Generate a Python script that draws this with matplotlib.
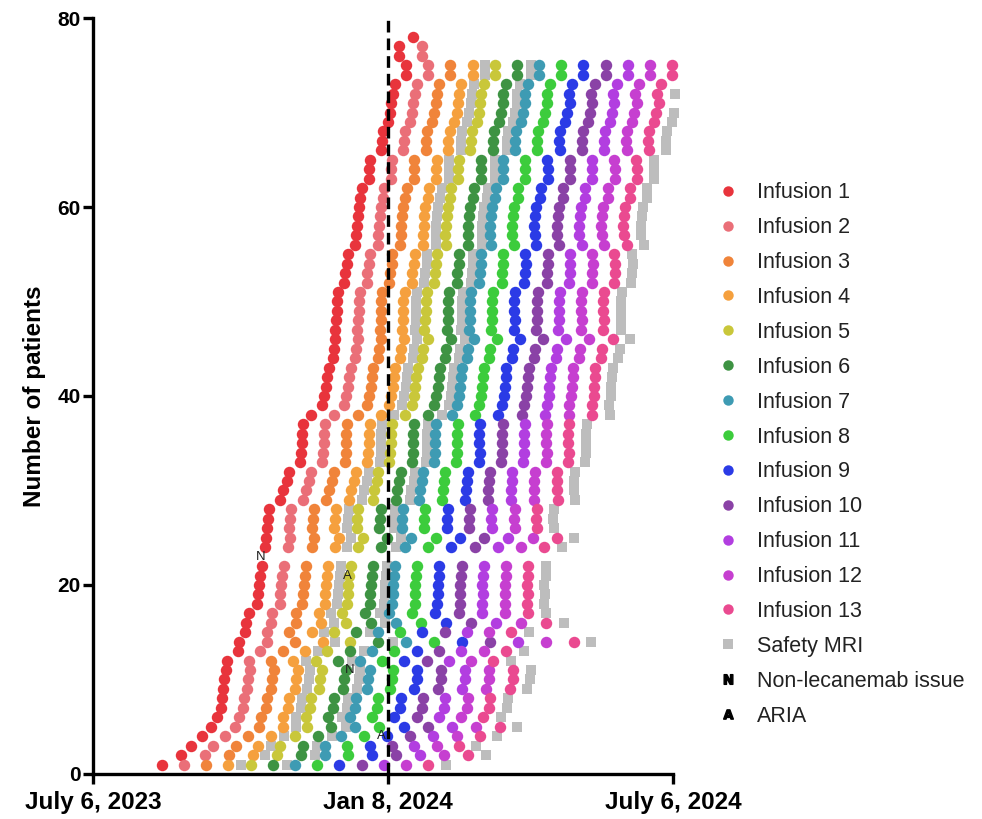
import numpy as np
import matplotlib
matplotlib.use('Agg')
import matplotlib.pyplot as plt
from matplotlib.lines import Line2D

plt.rcParams['font.family'] = ['Liberation Sans', 'DejaVu Sans']

# ============================================================
# DATA  (days counted from July 6, 2023)
# ============================================================
TICK_DAYS = [0, 186, 366]
TICK_LABELS = ['July 6, 2023', 'Jan 8, 2024', 'July 6, 2024']
CUTOFF_DAY = 368

# first infusion day per patient (patient 1..78), nan = never infused
first_dose = [43.5, 55.5, 61.8, 68.8, 74.4, 78.2, 80.8, 81.4, 82.0, 82.6,
              83.9, 84.5, 91.5, 92.1, 95.9, 96.5, 98.4, 103.5, 104.1, 104.7,
              105.4, 106.6, np.nan, 108.5, 109.1, 109.8, 110.4, 111.0, 118.0, 119.9,
              122.4, 123.7, 130.6, 131.2, 131.9, 131.9, 132.5, 137.5, 144.5, 145.7,
              147.0, 147.6, 148.9, 151.4, 152.1, 152.7, 152.7, 153.3, 153.9, 153.9,
              154.6, 158.4, 159.0, 160.3, 160.9, 165.3, 165.9, 166.6, 167.2, 167.8,
              168.5, 169.7, 174.1, 174.1, 174.8, 181.7, 182.3, 183.0, 186.1, 187.4,
              188.0, 189.3, 190.5, 197.5, 197.5, 193.1, 193.1, 201.9]

# average days between infusions per patient
dose_gap = [14.0, 15.1, 14.1, 14.6, 15.2, 14.0, 14.1, 14.1, 15.1, 15.2,
            15.1, 14.0, 14.1, 17.6, 14.0, 15.8, 14.7, 14.2, 14.2, 14.1,
            14.1, 14.0, 14.0, 14.7, 15.3, 14.2, 14.1, 14.1, 14.6, 14.4,
            14.2, 14.1, 14.1, 14.1, 14.0, 14.0, 14.0, 14.8, 14.2, 14.2,
            14.1, 14.1, 14.0, 14.1, 14.1, 14.6, 14.1, 14.1, 14.0, 14.0,
            14.0, 14.2, 14.2, 14.1, 14.0, 14.3, 14.1, 14.0, 14.0, 14.0,
            14.2, 14.1, 14.1, 14.1, 14.0, 14.1, 14.0, 14.0, 14.0, 14.0,
            14.1, 13.9, 14.0, 14.0, 14.0, 14.5, 14.5, 14.0]

# infusions received per patient
n_doses = [13] * 22 + [0] + [13] * 52 + [2, 2, 1]

# safety MRI: days after the given infusion number
MRI_AFTER = {4: 8, 6: 9, 13: 11}

# event markers: (patient, day, letter)
events = [(23, 106.0, 'N'), (21, 160.3, 'A'), (11, 162.1, 'N'), (4, 181.7, 'A')]

infusion_colors = ['#e8343c', '#ea6f78', '#f0843a', '#f5a03e', '#c9c73a',
                   '#3e9343', '#3e9bb3', '#3ccc3c', '#2b3be6', '#8a42a6',
                   '#b23ee0', '#c63fd0', '#ea4a90']
MRI_COLOR = '#bdbdbd'

# ============================================================
# BUILD POINTS
# ============================================================
inf_x = [[] for _ in range(13)]
inf_y = [[] for _ in range(13)]
mri_x, mri_y = [], []
for i, (d0, gap, n) in enumerate(zip(first_dose, dose_gap, n_doses)):
    pid = i + 1
    if n == 0:
        continue
    for k in range(n):
        inf_x[k].append(d0 + gap * k)
        inf_y[k].append(pid)
    for after, off in MRI_AFTER.items():
        if after <= n:
            d = d0 + gap * (after - 1) + off
            if d <= CUTOFF_DAY:
                mri_x.append(d)
                mri_y.append(pid)

# ============================================================
# PLOT
# ============================================================
fig = plt.figure(figsize=(9.82, 8.19), dpi=100)
ax = fig.add_axes([0.0947, 0.055, 0.5906, 0.923])

ax.scatter(mri_x, mri_y, marker='s', s=52, color=MRI_COLOR, linewidths=0,
           zorder=2, clip_on=False)
for k in range(13):
    ax.scatter(inf_x[k], inf_y[k], s=68, color=infusion_colors[k], linewidths=0,
               zorder=3, clip_on=False)

for pid, day, letter in events:
    ax.text(day, pid, letter, ha='center', va='center', fontsize=9.5,
            color='#222222', zorder=5)

ax.axvline(186, color='black', linestyle=(0, (3.5, 1.8)), linewidth=2.4, zorder=4)

ax.set_xlim(0, 366)
ax.set_ylim(0, 80)
ax.set_xticks(TICK_DAYS)
ax.set_xticklabels(TICK_LABELS, fontsize=17.5, fontweight='bold')
ax.set_yticks([0, 20, 40, 60, 80])
ax.set_yticklabels(['0', '20', '40', '60', '80'], fontsize=15, fontweight='bold')
ax.set_ylabel('Number of patients', fontsize=17.5, fontweight='bold', labelpad=8)

for side in ['top', 'right']:
    ax.spines[side].set_visible(False)
for side in ['left', 'bottom']:
    ax.spines[side].set_linewidth(2.4)
ax.tick_params(axis='both', width=2.4, length=7, color='black')
ax.tick_params(axis='y', pad=2)
ax.tick_params(axis='x', pad=5)

handles = [Line2D([], [], marker='o', linestyle='', markersize=7.5,
                  markerfacecolor=c, markeredgewidth=0) for c in infusion_colors]
handles.append(Line2D([], [], marker='s', linestyle='', markersize=7,
                      markerfacecolor=MRI_COLOR, markeredgewidth=0))
handles.append(Line2D([], [], marker='$\\mathbf{N}$', linestyle='', markersize=7,
                      color='black'))
handles.append(Line2D([], [], marker='$\\mathbf{A}$', linestyle='', markersize=7,
                      color='black'))
labels = [f'Infusion {k + 1}' for k in range(13)] + ['Safety MRI', 'Non-lecanemab issue', 'ARIA']

fig.legend(handles, labels, loc='upper left', bbox_to_anchor=(0.711, 0.801),
           frameon=False, fontsize=15.5, labelspacing=0.645, handletextpad=0.85,
           handlelength=1.0, labelcolor='#222222')

fig.savefig('out.png', dpi=100)
